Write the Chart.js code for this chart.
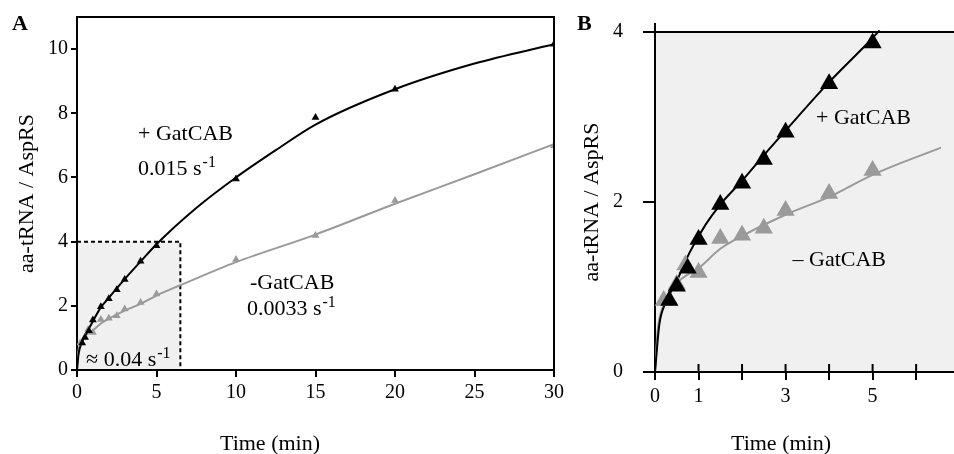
<!DOCTYPE html>
<html>
<head>
<meta charset="utf-8">
<script src="https://cdn.jsdelivr.net/npm/chart.js@4.4.1/dist/chart.umd.min.js"></script>
<style>
  html, body { margin: 0; padding: 0; background: #fff; }
  #wrap { position: relative; width: 954px; height: 454px; overflow: hidden; }
  canvas { position: absolute; top: 0; }
  #chartA { left: 0; }
  #chartB { left: 560px; }
</style>
</head>
<body>
<div id="wrap">
  <canvas id="chartA" width="590" height="454"></canvas>
  <canvas id="chartB" width="394" height="454"></canvas>
</div>
<script>
// measured points (time in min, aa-tRNA / AspRS)
const blackTimes  = [0.33, 0.5, 0.75, 1, 1.5, 2, 2.5, 3, 4, 5, 10, 15, 20, 30];
const blackValues = [0.84, 1.01, 1.22, 1.56, 1.97, 2.22, 2.50, 2.82, 3.39, 3.87, 5.95, 7.87, 8.75, 10.15];
const grayTimes   = [0.2, 0.5, 0.7, 1, 1.5, 2, 2.5, 3, 4, 5, 10, 15, 20, 30];
const grayValues  = [0.84, 1.03, 1.26, 1.17, 1.57, 1.61, 1.69, 1.90, 2.10, 2.37, 3.44, 4.19, 5.28, 6.99];

// fitted curves
const blackFitTimesA  = [0, 0.1, 0.3, 0.5, 1, 1.5, 2, 3, 4, 5, 7.5, 10, 12.5, 15, 20, 25, 30];
const blackFitValuesA = [0, 0.5, 0.85, 1.05, 1.52, 1.95, 2.25, 2.83, 3.38, 3.92, 5.05, 6.0, 6.85, 7.65, 8.75, 9.55, 10.15];
const grayFitTimesA   = [0, 0.05, 0.2, 0.5, 1, 1.5, 2, 3, 4, 5, 6.5, 10, 15, 20, 25, 30];
const grayFitValuesA  = [0, 0.45, 0.78, 1.05, 1.23, 1.45, 1.6, 1.85, 2.06, 2.32, 2.64, 3.36, 4.22, 5.18, 6.1, 7.04];
const blackFitTimesB  = [0, 0.1, 0.25, 0.5, 0.8, 1.17, 1.5, 2, 2.5, 3, 4, 5, 5.16];
const blackFitValuesB = [0, 0.56, 0.82, 1.07, 1.41, 1.74, 1.97, 2.25, 2.55, 2.84, 3.41, 3.93, 4.02];
const grayFitTimesB   = [0, 0.06, 0.2, 0.56, 1, 1.5, 2, 3, 4, 5, 6.57];
const grayFitValuesB  = [0, 0.48, 0.79, 1.07, 1.22, 1.45, 1.6, 1.85, 2.06, 2.32, 2.64];

// ticks
const timeTicksA  = [0, 5, 10, 15, 20, 25, 30];
const valueTicksA = [0, 2, 4, 6, 8, 10];
const timeTicksB  = [0, 1, 2, 3, 4, 5, 6];
const timeLabelsB = ['0', '1', '', '3', '', '5', ''];
const valueTicksB = [0, 2, 4];

// zoomed region of panel A
const insetTime = 6.5;
const insetValue = 4;

const FAMILY = '"Liberation Serif", "Times New Roman", serif';
const tickFont = { family: FAMILY, size: 20 };
const titleFont = { family: FAMILY, size: 22 };
const GRAY = '#9a9a9a';
const SHADE = '#f0f0f0';

const toXY = (times, values) => times.map((t, i) => ({ x: t, y: values[i] }));

function makeDatasets(markerRadius, blackFit, grayFit) {
  return [
    {
      data: toXY(blackTimes, blackValues),
      showLine: false,
      pointStyle: 'triangle',
      pointRadius: markerRadius,
      pointBackgroundColor: '#000',
      pointBorderWidth: 0,
    },
    {
      data: toXY(grayTimes, grayValues),
      showLine: false,
      pointStyle: 'triangle',
      pointRadius: markerRadius,
      pointBackgroundColor: GRAY,
      pointBorderWidth: 0,
    },
    {
      data: blackFit,
      borderColor: '#000',
      borderWidth: 2,
      pointRadius: 0,
      cubicInterpolationMode: 'monotone',
      clip: 6,
    },
    {
      data: grayFit,
      borderColor: GRAY,
      borderWidth: 2,
      pointRadius: 0,
      cubicInterpolationMode: 'monotone',
    },
  ];
}

function drawNotes(chart, notes) {
  const { ctx, scales: { x, y } } = chart;
  ctx.save();
  ctx.fillStyle = '#000';
  ctx.textAlign = 'left';
  ctx.textBaseline = 'alphabetic';
  notes.forEach((n) => {
    const px = x.getPixelForValue(n.t);
    const py = y.getPixelForValue(n.v);
    ctx.font = '22px ' + FAMILY;
    ctx.fillText(n.text, px, py);
    if (n.sup) {
      const w = ctx.measureText(n.text).width;
      ctx.font = '16px ' + FAMILY;
      ctx.fillText(n.sup, px + w + 1, py - 8);
    }
  });
  ctx.restore();
}

function drawText(ctx, text, x, y, font, align) {
  ctx.save();
  ctx.fillStyle = '#000';
  ctx.font = font;
  ctx.textAlign = align;
  ctx.textBaseline = 'alphabetic';
  ctx.fillText(text, x, y);
  ctx.restore();
}

const notesA = [
  { text: '+ GatCAB', t: 3.84, v: 7.17 },
  { text: '0.015 s', sup: '-1', t: 3.84, v: 6.07 },
  { text: '-GatCAB', t: 10.88, v: 2.51 },
  { text: '0.0033 s', sup: '-1', t: 10.69, v: 1.71 },
  { text: '\u2248 0.04 s', sup: '-1', t: 0.57, v: 0.13 },
];
const notesB = [
  { text: '+ GatCAB', t: 3.70, v: 2.92 },
  { text: '\u2013 GatCAB', t: 3.16, v: 1.25 },
];

const panelA = {
  id: 'panelA',
  beforeDraw(chart) {
    const { ctx, scales: { x, y } } = chart;
    ctx.save();
    ctx.fillStyle = SHADE;
    const l = x.getPixelForValue(0), r = x.getPixelForValue(insetTime);
    const t = y.getPixelForValue(insetValue), b = y.getPixelForValue(0);
    ctx.fillRect(l, t, r - l, b - t);
    ctx.restore();
  },
  beforeDatasetsDraw(chart) {
    const { ctx, scales: { x, y } } = chart;
    const l = x.getPixelForValue(0), r = x.getPixelForValue(insetTime);
    const t = y.getPixelForValue(insetValue), b = y.getPixelForValue(0);
    ctx.save();
    ctx.strokeStyle = '#000';
    ctx.lineWidth = 2;
    ctx.setLineDash([4, 3]);
    ctx.beginPath();
    ctx.moveTo(l, t);
    ctx.lineTo(r, t);
    ctx.lineTo(r, b);
    ctx.stroke();
    ctx.restore();
  },
  afterDraw(chart) {
    const { ctx, chartArea: a } = chart;
    ctx.save();
    ctx.strokeStyle = '#000';
    ctx.lineWidth = 2;
    ctx.beginPath();
    ctx.moveTo(a.left - 1, a.top);
    ctx.lineTo(a.right, a.top);
    ctx.lineTo(a.right, a.bottom);
    ctx.stroke();
    ctx.restore();
    drawNotes(chart, notesA);
    drawText(ctx, 'A', 12, 30, 'bold 22px ' + FAMILY, 'left');
    drawText(ctx, 'Time (min)', 270, 450, '22px ' + FAMILY, 'center');
  },
};

const panelB = {
  id: 'panelB',
  beforeDraw(chart) {
    const { ctx, chartArea: a } = chart;
    ctx.save();
    ctx.fillStyle = SHADE;
    ctx.fillRect(a.left, a.top, a.right - a.left, a.bottom - a.top);
    ctx.restore();
  },
  afterDraw(chart) {
    const { ctx, chartArea: a, scales: { x } } = chart;
    ctx.save();
    ctx.strokeStyle = '#000';
    ctx.lineWidth = 2;
    ctx.beginPath();
    ctx.moveTo(a.left, a.top);
    ctx.lineTo(a.right, a.top);
    ctx.moveTo(a.left, a.top - 9);
    ctx.lineTo(a.left, a.top);
    timeTicksB.forEach((v) => {
      const px = x.getPixelForValue(v);
      ctx.moveTo(px, a.bottom);
      ctx.lineTo(px, a.bottom - 8);
    });
    ctx.stroke();
    ctx.restore();
    drawNotes(chart, notesB);
    drawText(ctx, 'B', 17, 30, 'bold 22px ' + FAMILY, 'left');
    drawText(ctx, 'Time (min)', 221, 450, '22px ' + FAMILY, 'center');
  },
};

function axisCommon(tickLength) {
  return {
    type: 'linear',
    grid: { drawOnChartArea: false, color: '#000', lineWidth: 2, tickLength },
    border: { color: '#000', width: 2 },
  };
}

new Chart(document.getElementById('chartA'), {
  type: 'line',
  data: {
    datasets: makeDatasets(4.5, toXY(blackFitTimesA, blackFitValuesA), toXY(grayFitTimesA, grayFitValuesA)),
  },
  options: {
    responsive: false,
    animation: false,
    layout: { autoPadding: false, padding: { left: 0, right: 36, top: 17, bottom: 0 } },
    plugins: { legend: { display: false }, tooltip: { enabled: false } },
    scales: {
      x: {
        ...axisCommon(7),
        min: 0,
        max: 30,
        afterBuildTicks: (s) => { s.ticks = timeTicksA.map((v) => ({ value: v })); },
        ticks: { font: tickFont, color: '#000', padding: 4, maxRotation: 0 },
        afterFit: (s) => { s.height = 84; s.paddingLeft = 0; s.paddingRight = 0; },
      },
      y: {
        ...axisCommon(6),
        min: 0,
        max: 11,
        afterBuildTicks: (s) => { s.ticks = valueTicksA.map((v) => ({ value: v })); },
        ticks: { font: tickFont, color: '#000', padding: 3 },
        title: { display: true, text: 'aa-tRNA / AspRS', font: titleFont, color: '#000', padding: { top: 14, bottom: 0 } },
        afterFit: (s) => { s.width = 77; },
      },
    },
  },
  plugins: [panelA],
});

new Chart(document.getElementById('chartB'), {
  type: 'line',
  data: {
    datasets: makeDatasets(10.5, toXY(blackFitTimesB, blackFitValuesB), toXY(grayFitTimesB, grayFitValuesB)),
  },
  options: {
    responsive: false,
    animation: false,
    layout: { autoPadding: false, padding: { left: 0, right: 0, top: 22, bottom: 0 } },
    plugins: { legend: { display: false }, tooltip: { enabled: false } },
    scales: {
      x: {
        ...axisCommon(8),
        min: 0,
        max: 6.87,
        afterBuildTicks: (s) => { s.ticks = timeTicksB.map((v) => ({ value: v })); },
        ticks: {
          font: tickFont,
          color: '#000',
          padding: 5,
          maxRotation: 0,
          autoSkip: false,
          callback: (v, i) => timeLabelsB[i],
        },
        afterFit: (s) => { s.height = 82; s.paddingLeft = 0; s.paddingRight = 0; },
      },
      y: {
        ...axisCommon(12),
        min: 0,
        max: 4,
        afterBuildTicks: (s) => { s.ticks = valueTicksB.map((v) => ({ value: v })); },
        ticks: { font: tickFont, color: '#000', padding: 20 },
        title: { display: true, text: 'aa-tRNA / AspRS', font: titleFont, color: '#000', padding: { top: 19, bottom: 0 } },
        afterFit: (s) => { s.width = 95; },
      },
    },
  },
  plugins: [panelB],
});
</script>
</body>
</html>
